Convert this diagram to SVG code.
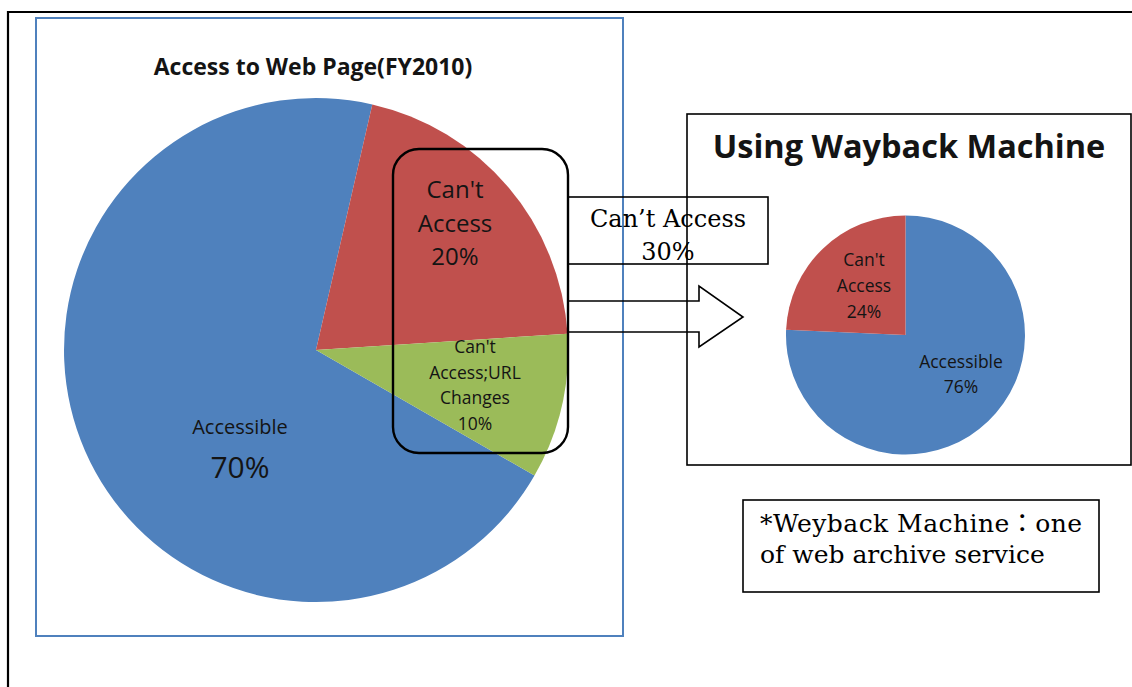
<svg xmlns="http://www.w3.org/2000/svg" width="1132" height="687" viewBox="0 0 1132 687">
<style>
.sans{font-family:"Open Sans","Noto Sans","Liberation Sans",sans-serif;fill:#141414}
.serif{font-family:"DejaVu Serif","Liberation Serif","Noto Sans CJK JP",serif;fill:#000}
.lbl{font-size:17.5px;text-anchor:middle}
.box{fill:none;stroke:#000;stroke-width:1.6}
</style>
<rect width="1132" height="687" fill="#fff"/>
<path d="M8,687 V12 H1132" fill="none" stroke="#000" stroke-width="2.2"/>

<g id="left-chart">
<rect x="36" y="18" width="587" height="618" fill="none" stroke="#4F81BD" stroke-width="2"/>
<text class="sans" x="313" y="75" font-size="23" font-weight="bold" text-anchor="middle">Access to Web Page(FY2010)</text>
<path d="M316,350 L534.5,475.6 A252,252 0 1 1 372.3,104.4 Z" fill="#4F81BD"/>
<path d="M316,350 L372.3,104.4 A252,252 0 0 1 567.5,333.7 Z" fill="#C0504D"/>
<path d="M316,350 L567.5,333.7 A252,252 0 0 1 534.5,475.6 Z" fill="#9BBB59"/>
<g class="sans" text-anchor="middle">
<text x="240" y="434" font-size="20">Accessible</text>
<text x="240" y="478" font-size="30">70%</text>
<text x="455" y="198" font-size="24">Can't</text>
<text x="455" y="232" font-size="24">Access</text>
<text x="455" y="265" font-size="24">20%</text>
</g>
<g class="sans lbl">
<text x="475" y="353">Can't</text>
<text x="475" y="379">Access;URL</text>
<text x="475" y="404">Changes</text>
<text x="475" y="430">10%</text>
</g>
</g>

<g id="highlight">
<rect x="393" y="149" width="175" height="304" rx="26" ry="26" fill="none" stroke="#000" stroke-width="2.4"/>
</g>

<g id="cant-access-box">
<rect class="box" x="568" y="197" width="200" height="67"/>
<text class="serif" x="668" y="227" font-size="24" text-anchor="middle">Can’t Access</text>
<text class="serif" x="668" y="260" font-size="24" text-anchor="middle">30%</text>
</g>

<g id="connectors">
<path d="M568,301 H699 V286 L743,317 L699,347 V332 H568" fill="none" stroke="#000" stroke-width="1.6"/>
</g>

<g id="wayback-chart">
<rect class="box" x="687" y="114" width="444" height="351"/>
<text class="sans" x="909" y="158" font-size="32.5" font-weight="bold" text-anchor="middle">Using Wayback Machine</text>
<path d="M905.5,335 L905.5,215.5 A119.5,119.5 0 1 1 786.1,329.8 Z" fill="#4F81BD"/>
<path d="M905.5,335 L786.1,329.8 A119.5,119.5 0 0 1 905.5,215.5 Z" fill="#C0504D"/>
<g class="sans lbl">
<text x="864" y="266">Can't</text>
<text x="864" y="292">Access</text>
<text x="864" y="318">24%</text>
<text x="961" y="368">Accessible</text>
<text x="961" y="393">76%</text>
</g>
</g>

<g id="footnote">
<rect class="box" x="743" y="500" width="356" height="92"/>
<text class="serif" x="760" y="532" font-size="25" textLength="322" lengthAdjust="spacing">*Weyback Machine：one</text>
<text class="serif" x="760" y="563" font-size="25">of web archive service</text>
</g>
</svg>
